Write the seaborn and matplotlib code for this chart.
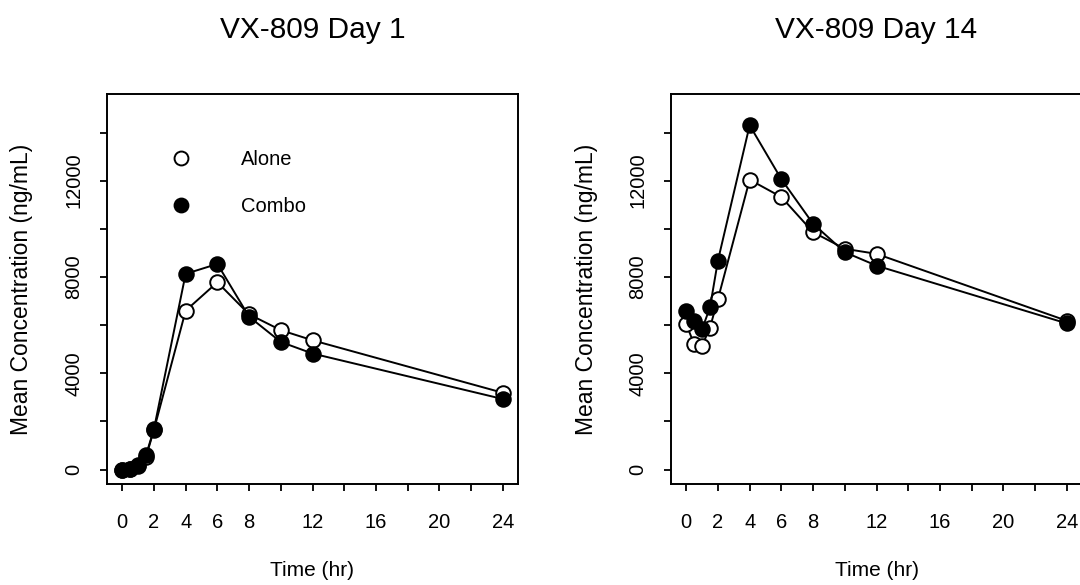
import matplotlib
matplotlib.use("Agg")
import matplotlib.pyplot as plt
from matplotlib.lines import Line2D
import seaborn as sns
import pandas as pd

# ---- data ----
time_hr = [0, 0.5, 1, 1.5, 2, 4, 6, 8, 10, 12, 24]
day1_alone = [0, 20, 150, 520, 1650, 6600, 7780, 6450, 5790, 5370, 3190]
day1_combo = [0, 30, 200, 600, 1680, 8130, 8540, 6350, 5300, 4820, 2930]
day14_alone = [6040, 5210, 5140, 5900, 7080, 12040, 11320, 9860, 9170, 8960, 6180]
day14_combo = [6600, 6180, 5830, 6740, 8680, 14300, 12060, 10210, 9030, 8470, 6070]

titles = ["VX-809 Day 1", "VX-809 Day 14"]
series_labels = ["Alone", "Combo"]
x_ticks = list(range(0, 25, 2))
x_labeled = [0, 2, 4, 6, 8, 12, 16, 20, 24]
y_ticks = list(range(0, 14001, 2000))
y_labeled = [0, 4000, 8000, 12000]
xlabel = "Time (hr)"
ylabel = "Mean Concentration (ng/mL)"

sns.set_style("ticks")
plt.rcParams["font.family"] = ["Liberation Sans", "DejaVu Sans"]
plt.rcParams["axes.linewidth"] = 1.4
plt.rcParams["xtick.major.width"] = 1.3
plt.rcParams["ytick.major.width"] = 1.3
plt.rcParams["text.color"] = "black"
plt.rcParams["axes.labelcolor"] = "black"
plt.rcParams["xtick.color"] = "black"
plt.rcParams["ytick.color"] = "black"

fig = plt.figure(figsize=(10.8, 5.85), dpi=100)
W, H = 1080, 585
ax1 = fig.add_axes([107 / W, 1 - 484 / H, 411 / W, 390 / H])
ax2 = fig.add_axes([671 / W, 1 - 484 / H, 411 / W, 390 / H])

panels = [(ax1, day1_alone, day1_combo), (ax2, day14_alone, day14_combo)]

for (ax, alone, combo), title in zip(panels, titles):
    df = pd.DataFrame({"time": time_hr, "alone": alone, "combo": combo})
    sns.lineplot(data=df, x="time", y="alone", ax=ax, color="black", lw=1.4,
                 marker="o", markersize=10.5, markerfacecolor="white",
                 markeredgecolor="black", markeredgewidth=1.4, zorder=2)
    sns.lineplot(data=df, x="time", y="combo", ax=ax, color="black", lw=1.4,
                 marker="o", markersize=10.5, markerfacecolor="black",
                 markeredgecolor="black", markeredgewidth=1.4, zorder=3)
    ax.set_xlim(-0.96, 24.96)
    ax.set_ylim(-600, 15600)
    ax.set_xticks(x_ticks)
    ax.set_xticklabels([str(t) if t in x_labeled else "" for t in x_ticks])
    ax.set_yticks(y_ticks)
    ax.set_yticklabels([str(v) if v in y_labeled else "" for v in y_ticks])
    ax.tick_params(axis="both", direction="out", length=5, labelsize=14.5,
                   colors="black")
    ax.tick_params(axis="x", pad=16)
    ax.tick_params(axis="y", pad=12, labelrotation=90)
    for lab in ax.get_yticklabels():
        lab.set_va("center")
    ax.set_xlabel(xlabel, fontsize=15, va="center")
    ax.xaxis.set_label_coords(0.5, (484 - 570) / 390)
    ax.set_ylabel(ylabel, fontsize=16.5, va="center")
    ax.yaxis.set_label_coords((22 - 107) / 411, 0.5)
    ax.set_title(title, fontsize=21.5, pad=40)
    for s in ax.spines.values():
        s.set_visible(True)
        s.set_color("black")

handles = [
    Line2D([], [], marker="o", ls="none", ms=10, mfc="white", mec="black", mew=1.4),
    Line2D([], [], marker="o", ls="none", ms=10, mfc="black", mec="black", mew=1.4),
]
ax1.legend(handles, series_labels, frameon=False, fontsize=14.5,
           loc="upper left", bbox_to_anchor=(0.130, 0.882), borderpad=0,
           handlelength=1.0, handletextpad=2.5, labelspacing=1.4)

fig.savefig("out.png", dpi=100)
